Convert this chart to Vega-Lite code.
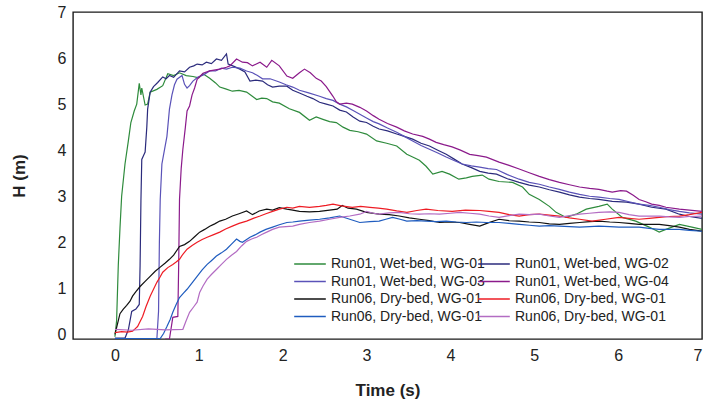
{
"$schema": "https://vega.github.io/schema/vega-lite/v6.json",
"width": 629, "height": 327,
"autosize": {"type": "none"},
"padding": {"left": 73, "top": 12, "right": 1, "bottom": 66},
"background": "white",
"config": {"view": {"stroke": "#1a1a1a", "strokeWidth": 1.4}, "font": "Liberation Sans", "axis": {"labelColor": "#222", "titleColor": "#222"}},
"data": {"values": [
{"s":"a","t":0,"h":-0.05},{"s":"a","t":0.02,"h":0.3},{"s":"a","t":0.04,"h":1.5},{"s":"a","t":0.06,"h":2.3},{"s":"a","t":0.08,"h":3.0},{"s":"a","t":0.12,"h":3.7},{"s":"a","t":0.16,"h":4.2},{"s":"a","t":0.19,"h":4.6},{"s":"a","t":0.23,"h":4.85},{"s":"a","t":0.26,"h":5.0},{"s":"a","t":0.29,"h":5.45},{"s":"a","t":0.31,"h":5.2},{"s":"a","t":0.32,"h":5.35},{"s":"a","t":0.36,"h":4.98},{"s":"a","t":0.39,"h":5.0},{"s":"a","t":0.42,"h":5.26},{"s":"a","t":0.5,"h":5.32},{"s":"a","t":0.57,"h":5.4},{"s":"a","t":0.63,"h":5.66},{"s":"a","t":0.7,"h":5.62},{"s":"a","t":0.77,"h":5.68},{"s":"a","t":0.85,"h":5.62},{"s":"a","t":0.93,"h":5.6},{"s":"a","t":1.0,"h":5.57},{"s":"a","t":1.05,"h":5.66},{"s":"a","t":1.13,"h":5.56},{"s":"a","t":1.2,"h":5.46},{"s":"a","t":1.25,"h":5.37},{"s":"a","t":1.32,"h":5.33},{"s":"a","t":1.4,"h":5.28},{"s":"a","t":1.48,"h":5.3},{"s":"a","t":1.57,"h":5.26},{"s":"a","t":1.63,"h":5.18},{"s":"a","t":1.69,"h":5.1},{"s":"a","t":1.75,"h":5.13},{"s":"a","t":1.81,"h":5.12},{"s":"a","t":1.88,"h":5.05},{"s":"a","t":1.96,"h":5.02},{"s":"a","t":2.08,"h":4.9},{"s":"a","t":2.2,"h":4.82},{"s":"a","t":2.32,"h":4.65},{"s":"a","t":2.4,"h":4.72},{"s":"a","t":2.48,"h":4.67},{"s":"a","t":2.56,"h":4.62},{"s":"a","t":2.64,"h":4.6},{"s":"a","t":2.72,"h":4.5},{"s":"a","t":2.8,"h":4.43},{"s":"a","t":2.9,"h":4.4},{"s":"a","t":3.0,"h":4.35},{"s":"a","t":3.12,"h":4.2},{"s":"a","t":3.24,"h":4.15},{"s":"a","t":3.36,"h":4.09},{"s":"a","t":3.48,"h":3.91},{"s":"a","t":3.55,"h":3.85},{"s":"a","t":3.63,"h":3.78},{"s":"a","t":3.71,"h":3.65},{"s":"a","t":3.79,"h":3.48},{"s":"a","t":3.9,"h":3.54},{"s":"a","t":3.99,"h":3.48},{"s":"a","t":4.1,"h":3.37},{"s":"a","t":4.19,"h":3.4},{"s":"a","t":4.26,"h":3.43},{"s":"a","t":4.38,"h":3.46},{"s":"a","t":4.46,"h":3.37},{"s":"a","t":4.58,"h":3.32},{"s":"a","t":4.74,"h":3.3},{"s":"a","t":4.86,"h":3.2},{"s":"a","t":4.94,"h":3.04},{"s":"a","t":5.06,"h":2.93},{"s":"a","t":5.18,"h":2.78},{"s":"a","t":5.26,"h":2.65},{"s":"a","t":5.38,"h":2.54},{"s":"a","t":5.5,"h":2.61},{"s":"a","t":5.62,"h":2.72},{"s":"a","t":5.77,"h":2.78},{"s":"a","t":5.87,"h":2.83},{"s":"a","t":5.93,"h":2.72},{"s":"a","t":6.05,"h":2.54},{"s":"a","t":6.21,"h":2.46},{"s":"a","t":6.37,"h":2.33},{"s":"a","t":6.49,"h":2.22},{"s":"a","t":6.57,"h":2.28},{"s":"a","t":6.73,"h":2.39},{"s":"a","t":6.88,"h":2.33},{"s":"a","t":7.0,"h":2.28},
{"s":"b","t":0,"h":-0.08},{"s":"b","t":0.12,"h":-0.08},{"s":"b","t":0.16,"h":0.1},{"s":"b","t":0.2,"h":0.5},{"s":"b","t":0.25,"h":0.55},{"s":"b","t":0.29,"h":0.65},{"s":"b","t":0.3,"h":1.5},{"s":"b","t":0.31,"h":2.9},{"s":"b","t":0.32,"h":3.8},{"s":"b","t":0.34,"h":3.88},{"s":"b","t":0.36,"h":3.96},{"s":"b","t":0.38,"h":4.5},{"s":"b","t":0.39,"h":4.89},{"s":"b","t":0.42,"h":5.26},{"s":"b","t":0.46,"h":5.38},{"s":"b","t":0.51,"h":5.47},{"s":"b","t":0.57,"h":5.59},{"s":"b","t":0.61,"h":5.55},{"s":"b","t":0.65,"h":5.62},{"s":"b","t":0.7,"h":5.58},{"s":"b","t":0.77,"h":5.72},{"s":"b","t":0.83,"h":5.7},{"s":"b","t":0.89,"h":5.8},{"s":"b","t":0.94,"h":5.83},{"s":"b","t":0.98,"h":5.87},{"s":"b","t":1.04,"h":5.85},{"s":"b","t":1.09,"h":5.91},{"s":"b","t":1.15,"h":5.88},{"s":"b","t":1.21,"h":5.98},{"s":"b","t":1.27,"h":5.95},{"s":"b","t":1.33,"h":6.09},{"s":"b","t":1.35,"h":5.87},{"s":"b","t":1.42,"h":5.82},{"s":"b","t":1.49,"h":5.76},{"s":"b","t":1.55,"h":5.7},{"s":"b","t":1.61,"h":5.5},{"s":"b","t":1.68,"h":5.52},{"s":"b","t":1.76,"h":5.5},{"s":"b","t":1.82,"h":5.42},{"s":"b","t":1.88,"h":5.37},{"s":"b","t":1.96,"h":5.39},{"s":"b","t":2.05,"h":5.39},{"s":"b","t":2.12,"h":5.3},{"s":"b","t":2.2,"h":5.24},{"s":"b","t":2.29,"h":5.17},{"s":"b","t":2.36,"h":5.12},{"s":"b","t":2.44,"h":5.04},{"s":"b","t":2.52,"h":5.0},{"s":"b","t":2.6,"h":4.96},{"s":"b","t":2.68,"h":4.87},{"s":"b","t":2.76,"h":4.83},{"s":"b","t":2.84,"h":4.72},{"s":"b","t":2.92,"h":4.63},{"s":"b","t":3.0,"h":4.6},{"s":"b","t":3.08,"h":4.52},{"s":"b","t":3.15,"h":4.46},{"s":"b","t":3.25,"h":4.42},{"s":"b","t":3.36,"h":4.35},{"s":"b","t":3.45,"h":4.3},{"s":"b","t":3.55,"h":4.24},{"s":"b","t":3.65,"h":4.15},{"s":"b","t":3.75,"h":4.09},{"s":"b","t":3.85,"h":4.0},{"s":"b","t":3.95,"h":3.91},{"s":"b","t":4.05,"h":3.8},{"s":"b","t":4.14,"h":3.7},{"s":"b","t":4.25,"h":3.62},{"s":"b","t":4.35,"h":3.54},{"s":"b","t":4.45,"h":3.5},{"s":"b","t":4.55,"h":3.48},{"s":"b","t":4.68,"h":3.38},{"s":"b","t":4.82,"h":3.3},{"s":"b","t":4.94,"h":3.24},{"s":"b","t":5.06,"h":3.2},{"s":"b","t":5.18,"h":3.14},{"s":"b","t":5.3,"h":3.09},{"s":"b","t":5.42,"h":3.03},{"s":"b","t":5.54,"h":2.98},{"s":"b","t":5.66,"h":2.95},{"s":"b","t":5.77,"h":2.93},{"s":"b","t":5.93,"h":2.89},{"s":"b","t":6.1,"h":2.87},{"s":"b","t":6.25,"h":2.83},{"s":"b","t":6.4,"h":2.76},{"s":"b","t":6.57,"h":2.72},{"s":"b","t":6.73,"h":2.61},{"s":"b","t":6.85,"h":2.56},{"s":"b","t":7.0,"h":2.52},
{"s":"c","t":0,"h":-0.1},{"s":"c","t":0.5,"h":-0.1},{"s":"c","t":0.52,"h":0.5},{"s":"c","t":0.53,"h":2.0},{"s":"c","t":0.54,"h":2.93},{"s":"c","t":0.56,"h":3.7},{"s":"c","t":0.59,"h":4.0},{"s":"c","t":0.62,"h":4.3},{"s":"c","t":0.65,"h":4.89},{"s":"c","t":0.68,"h":5.2},{"s":"c","t":0.71,"h":5.42},{"s":"c","t":0.74,"h":5.54},{"s":"c","t":0.8,"h":5.62},{"s":"c","t":0.83,"h":5.43},{"s":"c","t":0.86,"h":5.35},{"s":"c","t":0.89,"h":5.4},{"s":"c","t":0.93,"h":5.5},{"s":"c","t":0.99,"h":5.59},{"s":"c","t":1.05,"h":5.63},{"s":"c","t":1.13,"h":5.72},{"s":"c","t":1.2,"h":5.72},{"s":"c","t":1.27,"h":5.78},{"s":"c","t":1.33,"h":5.76},{"s":"c","t":1.4,"h":5.8},{"s":"c","t":1.49,"h":5.78},{"s":"c","t":1.57,"h":5.72},{"s":"c","t":1.64,"h":5.68},{"s":"c","t":1.7,"h":5.62},{"s":"c","t":1.76,"h":5.55},{"s":"c","t":1.85,"h":5.55},{"s":"c","t":1.96,"h":5.48},{"s":"c","t":2.04,"h":5.42},{"s":"c","t":2.12,"h":5.37},{"s":"c","t":2.2,"h":5.3},{"s":"c","t":2.3,"h":5.25},{"s":"c","t":2.44,"h":5.17},{"s":"c","t":2.52,"h":5.12},{"s":"c","t":2.6,"h":5.08},{"s":"c","t":2.68,"h":5.0},{"s":"c","t":2.76,"h":4.94},{"s":"c","t":2.84,"h":4.86},{"s":"c","t":2.92,"h":4.78},{"s":"c","t":3.0,"h":4.7},{"s":"c","t":3.08,"h":4.62},{"s":"c","t":3.15,"h":4.57},{"s":"c","t":3.25,"h":4.48},{"s":"c","t":3.36,"h":4.39},{"s":"c","t":3.45,"h":4.3},{"s":"c","t":3.55,"h":4.2},{"s":"c","t":3.65,"h":4.1},{"s":"c","t":3.75,"h":4.02},{"s":"c","t":3.85,"h":3.94},{"s":"c","t":3.95,"h":3.85},{"s":"c","t":4.05,"h":3.77},{"s":"c","t":4.14,"h":3.7},{"s":"c","t":4.25,"h":3.66},{"s":"c","t":4.35,"h":3.63},{"s":"c","t":4.45,"h":3.6},{"s":"c","t":4.55,"h":3.58},{"s":"c","t":4.68,"h":3.47},{"s":"c","t":4.82,"h":3.37},{"s":"c","t":4.94,"h":3.3},{"s":"c","t":5.06,"h":3.26},{"s":"c","t":5.18,"h":3.2},{"s":"c","t":5.3,"h":3.15},{"s":"c","t":5.42,"h":3.09},{"s":"c","t":5.54,"h":3.04},{"s":"c","t":5.66,"h":3.0},{"s":"c","t":5.77,"h":2.98},{"s":"c","t":5.9,"h":2.95},{"s":"c","t":6.01,"h":2.93},{"s":"c","t":6.13,"h":2.88},{"s":"c","t":6.25,"h":2.83},{"s":"c","t":6.37,"h":2.8},{"s":"c","t":6.49,"h":2.76},{"s":"c","t":6.61,"h":2.71},{"s":"c","t":6.73,"h":2.67},{"s":"c","t":6.85,"h":2.64},{"s":"c","t":7.0,"h":2.61},
{"s":"d","t":0.6,"h":-0.1},{"s":"d","t":0.65,"h":-0.1},{"s":"d","t":0.69,"h":0.37},{"s":"d","t":0.75,"h":0.39},{"s":"d","t":0.76,"h":1.5},{"s":"d","t":0.77,"h":2.93},{"s":"d","t":0.79,"h":3.6},{"s":"d","t":0.81,"h":4.02},{"s":"d","t":0.84,"h":4.5},{"s":"d","t":0.86,"h":4.85},{"s":"d","t":0.89,"h":4.96},{"s":"d","t":0.92,"h":5.2},{"s":"d","t":0.95,"h":5.35},{"s":"d","t":0.98,"h":5.54},{"s":"d","t":1.05,"h":5.67},{"s":"d","t":1.13,"h":5.72},{"s":"d","t":1.25,"h":5.76},{"s":"d","t":1.33,"h":5.8},{"s":"d","t":1.37,"h":5.83},{"s":"d","t":1.45,"h":5.98},{"s":"d","t":1.52,"h":5.91},{"s":"d","t":1.58,"h":5.9},{"s":"d","t":1.64,"h":5.83},{"s":"d","t":1.73,"h":5.91},{"s":"d","t":1.81,"h":5.8},{"s":"d","t":1.87,"h":5.95},{"s":"d","t":1.96,"h":5.83},{"s":"d","t":2.05,"h":5.61},{"s":"d","t":2.12,"h":5.56},{"s":"d","t":2.2,"h":5.68},{"s":"d","t":2.26,"h":5.76},{"s":"d","t":2.33,"h":5.68},{"s":"d","t":2.4,"h":5.56},{"s":"d","t":2.46,"h":5.5},{"s":"d","t":2.52,"h":5.38},{"s":"d","t":2.6,"h":5.17},{"s":"d","t":2.64,"h":5.05},{"s":"d","t":2.68,"h":5.0},{"s":"d","t":2.76,"h":5.02},{"s":"d","t":2.83,"h":5.0},{"s":"d","t":2.92,"h":4.93},{"s":"d","t":3.0,"h":4.85},{"s":"d","t":3.08,"h":4.75},{"s":"d","t":3.15,"h":4.67},{"s":"d","t":3.25,"h":4.58},{"s":"d","t":3.36,"h":4.5},{"s":"d","t":3.45,"h":4.42},{"s":"d","t":3.55,"h":4.35},{"s":"d","t":3.67,"h":4.3},{"s":"d","t":3.75,"h":4.24},{"s":"d","t":3.83,"h":4.17},{"s":"d","t":3.92,"h":4.12},{"s":"d","t":4.02,"h":4.07},{"s":"d","t":4.12,"h":4.0},{"s":"d","t":4.23,"h":3.91},{"s":"d","t":4.33,"h":3.88},{"s":"d","t":4.43,"h":3.85},{"s":"d","t":4.58,"h":3.74},{"s":"d","t":4.7,"h":3.67},{"s":"d","t":4.82,"h":3.59},{"s":"d","t":4.94,"h":3.51},{"s":"d","t":5.06,"h":3.43},{"s":"d","t":5.18,"h":3.36},{"s":"d","t":5.3,"h":3.3},{"s":"d","t":5.42,"h":3.25},{"s":"d","t":5.54,"h":3.2},{"s":"d","t":5.66,"h":3.17},{"s":"d","t":5.77,"h":3.15},{"s":"d","t":5.87,"h":3.11},{"s":"d","t":5.93,"h":3.09},{"s":"d","t":6.03,"h":3.12},{"s":"d","t":6.1,"h":3.11},{"s":"d","t":6.18,"h":3.02},{"s":"d","t":6.25,"h":2.93},{"s":"d","t":6.33,"h":2.88},{"s":"d","t":6.4,"h":2.83},{"s":"d","t":6.49,"h":2.8},{"s":"d","t":6.57,"h":2.76},{"s":"d","t":6.73,"h":2.72},{"s":"d","t":6.85,"h":2.7},{"s":"d","t":7.0,"h":2.67},
{"s":"e","t":0,"h":0.0},{"s":"e","t":0.02,"h":0.15},{"s":"e","t":0.04,"h":0.3},{"s":"e","t":0.06,"h":0.45},{"s":"e","t":0.1,"h":0.55},{"s":"e","t":0.14,"h":0.63},{"s":"e","t":0.18,"h":0.72},{"s":"e","t":0.21,"h":0.83},{"s":"e","t":0.25,"h":0.93},{"s":"e","t":0.3,"h":1.04},{"s":"e","t":0.36,"h":1.15},{"s":"e","t":0.42,"h":1.26},{"s":"e","t":0.48,"h":1.37},{"s":"e","t":0.54,"h":1.46},{"s":"e","t":0.6,"h":1.55},{"s":"e","t":0.65,"h":1.63},{"s":"e","t":0.7,"h":1.72},{"s":"e","t":0.77,"h":1.91},{"s":"e","t":0.83,"h":1.95},{"s":"e","t":0.89,"h":2.02},{"s":"e","t":0.95,"h":2.12},{"s":"e","t":1.01,"h":2.22},{"s":"e","t":1.07,"h":2.28},{"s":"e","t":1.13,"h":2.35},{"s":"e","t":1.19,"h":2.4},{"s":"e","t":1.25,"h":2.46},{"s":"e","t":1.32,"h":2.5},{"s":"e","t":1.4,"h":2.57},{"s":"e","t":1.48,"h":2.62},{"s":"e","t":1.57,"h":2.68},{"s":"e","t":1.64,"h":2.6},{"s":"e","t":1.72,"h":2.68},{"s":"e","t":1.81,"h":2.72},{"s":"e","t":1.88,"h":2.7},{"s":"e","t":1.96,"h":2.75},{"s":"e","t":2.05,"h":2.72},{"s":"e","t":2.12,"h":2.7},{"s":"e","t":2.2,"h":2.67},{"s":"e","t":2.32,"h":2.66},{"s":"e","t":2.44,"h":2.67},{"s":"e","t":2.56,"h":2.7},{"s":"e","t":2.65,"h":2.72},{"s":"e","t":2.71,"h":2.8},{"s":"e","t":2.78,"h":2.74},{"s":"e","t":2.88,"h":2.72},{"s":"e","t":3.0,"h":2.65},{"s":"e","t":3.15,"h":2.61},{"s":"e","t":3.27,"h":2.6},{"s":"e","t":3.39,"h":2.57},{"s":"e","t":3.51,"h":2.53},{"s":"e","t":3.63,"h":2.5},{"s":"e","t":3.75,"h":2.47},{"s":"e","t":3.87,"h":2.43},{"s":"e","t":4.0,"h":2.44},{"s":"e","t":4.11,"h":2.43},{"s":"e","t":4.23,"h":2.39},{"s":"e","t":4.35,"h":2.35},{"s":"e","t":4.45,"h":2.42},{"s":"e","t":4.58,"h":2.5},{"s":"e","t":4.7,"h":2.47},{"s":"e","t":4.82,"h":2.46},{"s":"e","t":4.94,"h":2.44},{"s":"e","t":5.06,"h":2.43},{"s":"e","t":5.18,"h":2.4},{"s":"e","t":5.3,"h":2.39},{"s":"e","t":5.42,"h":2.41},{"s":"e","t":5.54,"h":2.43},{"s":"e","t":5.66,"h":2.45},{"s":"e","t":5.77,"h":2.46},{"s":"e","t":5.9,"h":2.44},{"s":"e","t":6.01,"h":2.43},{"s":"e","t":6.13,"h":2.41},{"s":"e","t":6.25,"h":2.39},{"s":"e","t":6.37,"h":2.39},{"s":"e","t":6.49,"h":2.39},{"s":"e","t":6.61,"h":2.36},{"s":"e","t":6.73,"h":2.33},{"s":"e","t":6.85,"h":2.28},{"s":"e","t":7.0,"h":2.24},
{"s":"f","t":0,"h":0.04},{"s":"f","t":0.08,"h":0.06},{"s":"f","t":0.15,"h":0.05},{"s":"f","t":0.21,"h":0.07},{"s":"f","t":0.24,"h":0.12},{"s":"f","t":0.27,"h":0.17},{"s":"f","t":0.3,"h":0.28},{"s":"f","t":0.33,"h":0.39},{"s":"f","t":0.37,"h":0.6},{"s":"f","t":0.42,"h":0.83},{"s":"f","t":0.46,"h":0.98},{"s":"f","t":0.5,"h":1.13},{"s":"f","t":0.54,"h":1.25},{"s":"f","t":0.57,"h":1.35},{"s":"f","t":0.63,"h":1.45},{"s":"f","t":0.69,"h":1.52},{"s":"f","t":0.73,"h":1.57},{"s":"f","t":0.77,"h":1.63},{"s":"f","t":0.81,"h":1.74},{"s":"f","t":0.86,"h":1.85},{"s":"f","t":0.92,"h":1.93},{"s":"f","t":0.98,"h":2.0},{"s":"f","t":1.04,"h":2.06},{"s":"f","t":1.1,"h":2.11},{"s":"f","t":1.17,"h":2.16},{"s":"f","t":1.25,"h":2.22},{"s":"f","t":1.32,"h":2.29},{"s":"f","t":1.4,"h":2.35},{"s":"f","t":1.48,"h":2.41},{"s":"f","t":1.57,"h":2.46},{"s":"f","t":1.65,"h":2.52},{"s":"f","t":1.73,"h":2.57},{"s":"f","t":1.8,"h":2.62},{"s":"f","t":1.88,"h":2.67},{"s":"f","t":1.96,"h":2.72},{"s":"f","t":2.05,"h":2.76},{"s":"f","t":2.12,"h":2.74},{"s":"f","t":2.2,"h":2.78},{"s":"f","t":2.32,"h":2.76},{"s":"f","t":2.44,"h":2.78},{"s":"f","t":2.52,"h":2.8},{"s":"f","t":2.6,"h":2.83},{"s":"f","t":2.7,"h":2.79},{"s":"f","t":2.83,"h":2.76},{"s":"f","t":2.93,"h":2.78},{"s":"f","t":3.04,"h":2.76},{"s":"f","t":3.14,"h":2.74},{"s":"f","t":3.24,"h":2.72},{"s":"f","t":3.36,"h":2.68},{"s":"f","t":3.48,"h":2.65},{"s":"f","t":3.6,"h":2.69},{"s":"f","t":3.71,"h":2.72},{"s":"f","t":3.85,"h":2.69},{"s":"f","t":4.02,"h":2.67},{"s":"f","t":4.18,"h":2.7},{"s":"f","t":4.35,"h":2.69},{"s":"f","t":4.46,"h":2.67},{"s":"f","t":4.58,"h":2.65},{"s":"f","t":4.7,"h":2.6},{"s":"f","t":4.82,"h":2.57},{"s":"f","t":4.94,"h":2.6},{"s":"f","t":5.06,"h":2.61},{"s":"f","t":5.18,"h":2.59},{"s":"f","t":5.3,"h":2.57},{"s":"f","t":5.42,"h":2.53},{"s":"f","t":5.54,"h":2.5},{"s":"f","t":5.69,"h":2.46},{"s":"f","t":5.85,"h":2.5},{"s":"f","t":6.01,"h":2.54},{"s":"f","t":6.13,"h":2.52},{"s":"f","t":6.25,"h":2.5},{"s":"f","t":6.37,"h":2.52},{"s":"f","t":6.49,"h":2.54},{"s":"f","t":6.61,"h":2.56},{"s":"f","t":6.73,"h":2.57},{"s":"f","t":6.85,"h":2.6},{"s":"f","t":7.0,"h":2.65},
{"s":"g","t":0,"h":-0.09},{"s":"g","t":0.3,"h":-0.09},{"s":"g","t":0.54,"h":-0.09},{"s":"g","t":0.58,"h":0.02},{"s":"g","t":0.62,"h":0.17},{"s":"g","t":0.66,"h":0.33},{"s":"g","t":0.69,"h":0.48},{"s":"g","t":0.73,"h":0.65},{"s":"g","t":0.77,"h":0.8},{"s":"g","t":0.82,"h":0.9},{"s":"g","t":0.86,"h":0.98},{"s":"g","t":0.92,"h":1.12},{"s":"g","t":0.98,"h":1.26},{"s":"g","t":1.04,"h":1.4},{"s":"g","t":1.1,"h":1.52},{"s":"g","t":1.15,"h":1.6},{"s":"g","t":1.21,"h":1.7},{"s":"g","t":1.27,"h":1.77},{"s":"g","t":1.33,"h":1.85},{"s":"g","t":1.39,"h":1.96},{"s":"g","t":1.45,"h":2.07},{"s":"g","t":1.49,"h":2.02},{"s":"g","t":1.52,"h":2.0},{"s":"g","t":1.57,"h":2.06},{"s":"g","t":1.61,"h":2.11},{"s":"g","t":1.67,"h":2.16},{"s":"g","t":1.73,"h":2.22},{"s":"g","t":1.8,"h":2.28},{"s":"g","t":1.88,"h":2.33},{"s":"g","t":1.96,"h":2.38},{"s":"g","t":2.05,"h":2.43},{"s":"g","t":2.12,"h":2.44},{"s":"g","t":2.2,"h":2.46},{"s":"g","t":2.32,"h":2.48},{"s":"g","t":2.44,"h":2.5},{"s":"g","t":2.56,"h":2.53},{"s":"g","t":2.68,"h":2.57},{"s":"g","t":2.8,"h":2.5},{"s":"g","t":2.92,"h":2.43},{"s":"g","t":3.04,"h":2.45},{"s":"g","t":3.15,"h":2.46},{"s":"g","t":3.23,"h":2.5},{"s":"g","t":3.31,"h":2.54},{"s":"g","t":3.4,"h":2.5},{"s":"g","t":3.48,"h":2.46},{"s":"g","t":3.6,"h":2.47},{"s":"g","t":3.71,"h":2.46},{"s":"g","t":3.83,"h":2.45},{"s":"g","t":3.95,"h":2.46},{"s":"g","t":4.07,"h":2.44},{"s":"g","t":4.19,"h":2.43},{"s":"g","t":4.31,"h":2.44},{"s":"g","t":4.43,"h":2.43},{"s":"g","t":4.58,"h":2.43},{"s":"g","t":4.7,"h":2.41},{"s":"g","t":4.82,"h":2.39},{"s":"g","t":4.94,"h":2.37},{"s":"g","t":5.06,"h":2.35},{"s":"g","t":5.18,"h":2.36},{"s":"g","t":5.3,"h":2.35},{"s":"g","t":5.42,"h":2.34},{"s":"g","t":5.54,"h":2.33},{"s":"g","t":5.66,"h":2.34},{"s":"g","t":5.77,"h":2.35},{"s":"g","t":5.9,"h":2.34},{"s":"g","t":6.01,"h":2.33},{"s":"g","t":6.13,"h":2.33},{"s":"g","t":6.25,"h":2.33},{"s":"g","t":6.37,"h":2.3},{"s":"g","t":6.49,"h":2.28},{"s":"g","t":6.61,"h":2.28},{"s":"g","t":6.73,"h":2.28},{"s":"g","t":6.85,"h":2.26},{"s":"g","t":7.0,"h":2.24},
{"s":"h","t":0,"h":0.11},{"s":"h","t":0.2,"h":0.09},{"s":"h","t":0.4,"h":0.12},{"s":"h","t":0.6,"h":0.1},{"s":"h","t":0.81,"h":0.11},{"s":"h","t":0.85,"h":0.3},{"s":"h","t":0.89,"h":0.48},{"s":"h","t":0.94,"h":0.6},{"s":"h","t":0.98,"h":0.7},{"s":"h","t":1.01,"h":0.91},{"s":"h","t":1.05,"h":1.05},{"s":"h","t":1.1,"h":1.2},{"s":"h","t":1.15,"h":1.3},{"s":"h","t":1.21,"h":1.41},{"s":"h","t":1.27,"h":1.52},{"s":"h","t":1.33,"h":1.63},{"s":"h","t":1.39,"h":1.72},{"s":"h","t":1.45,"h":1.8},{"s":"h","t":1.51,"h":1.92},{"s":"h","t":1.57,"h":2.02},{"s":"h","t":1.63,"h":2.07},{"s":"h","t":1.69,"h":2.11},{"s":"h","t":1.75,"h":2.17},{"s":"h","t":1.81,"h":2.22},{"s":"h","t":1.88,"h":2.28},{"s":"h","t":1.96,"h":2.33},{"s":"h","t":2.04,"h":2.34},{"s":"h","t":2.12,"h":2.35},{"s":"h","t":2.2,"h":2.39},{"s":"h","t":2.32,"h":2.43},{"s":"h","t":2.44,"h":2.46},{"s":"h","t":2.56,"h":2.5},{"s":"h","t":2.68,"h":2.54},{"s":"h","t":2.8,"h":2.57},{"s":"h","t":2.92,"h":2.61},{"s":"h","t":3.0,"h":2.67},{"s":"h","t":3.08,"h":2.63},{"s":"h","t":3.15,"h":2.61},{"s":"h","t":3.27,"h":2.64},{"s":"h","t":3.39,"h":2.65},{"s":"h","t":3.51,"h":2.62},{"s":"h","t":3.63,"h":2.61},{"s":"h","t":3.75,"h":2.62},{"s":"h","t":3.87,"h":2.61},{"s":"h","t":4.0,"h":2.63},{"s":"h","t":4.11,"h":2.65},{"s":"h","t":4.23,"h":2.63},{"s":"h","t":4.35,"h":2.61},{"s":"h","t":4.46,"h":2.57},{"s":"h","t":4.58,"h":2.54},{"s":"h","t":4.7,"h":2.58},{"s":"h","t":4.82,"h":2.61},{"s":"h","t":4.94,"h":2.6},{"s":"h","t":5.06,"h":2.61},{"s":"h","t":5.18,"h":2.57},{"s":"h","t":5.3,"h":2.54},{"s":"h","t":5.42,"h":2.58},{"s":"h","t":5.54,"h":2.61},{"s":"h","t":5.66,"h":2.63},{"s":"h","t":5.77,"h":2.65},{"s":"h","t":5.9,"h":2.66},{"s":"h","t":6.01,"h":2.65},{"s":"h","t":6.13,"h":2.6},{"s":"h","t":6.25,"h":2.57},{"s":"h","t":6.37,"h":2.57},{"s":"h","t":6.49,"h":2.57},{"s":"h","t":6.61,"h":2.55},{"s":"h","t":6.73,"h":2.54},{"s":"h","t":6.85,"h":2.56},{"s":"h","t":7.0,"h":2.57}
]},
"mark": {"type": "line", "strokeWidth": 1.2, "clip": true},
"encoding": {
  "x": {"field": "t", "type": "quantitative", "scale": {"domain": [-0.5, 7], "nice": false, "zero": false},
        "axis": {"orient": "bottom", "values": [0,1,2,3,4,5,6,7], "format": "d", "ticks": false, "domain": false, "grid": false,
                 "title": "Time (s)", "labelFontSize": 16, "labelPadding": 8, "titleFontSize": 17, "titleFontWeight": "bold", "titlePadding": 19}},
  "y": {"field": "h", "type": "quantitative", "scale": {"domain": [-0.1, 7], "nice": false, "zero": false},
        "axis": {"orient": "left", "values": [0,1,2,3,4,5,6,7], "format": "d", "ticks": false, "domain": false, "grid": false,
                 "title": "H (m)", "labelFontSize": 16, "labelPadding": 7, "titleFontSize": 17, "titleFontWeight": "bold", "titlePadding": 29}},
  "color": {"field": "s", "type": "nominal",
    "scale": {"domain": ["a","b","c","d","e","f","g","h"], "range": ["#2e8b3c","#2b2b7c","#5a52b8","#8b1a8b","#111111","#ee1c24","#1f5cbf","#b36cc3"]},
    "legend": {"orient": "none", "direction": "horizontal", "legendX": 220, "legendY": 235, "columns": 2, "gridAlign": "none", "title": null, "symbolType": "stroke", "symbolSize": 1000, "symbolStrokeWidth": 1.5, "labelFontSize": 14, "labelColor": "#222", "columnPadding": -10, "rowPadding": -6.5, "labelOffset": 4, "padding": 0, "labelLimit": 300,
      "labelExpr": "datum.label == 'a' ? 'Run01, Wet-bed, WG-01' : datum.label == 'b' ? 'Run01, Wet-bed, WG-02' : datum.label == 'c' ? 'Run01, Wet-bed, WG-03' : datum.label == 'd' ? 'Run01, Wet-bed, WG-04' : 'Run06, Dry-bed, WG-01'"}}
}
}
